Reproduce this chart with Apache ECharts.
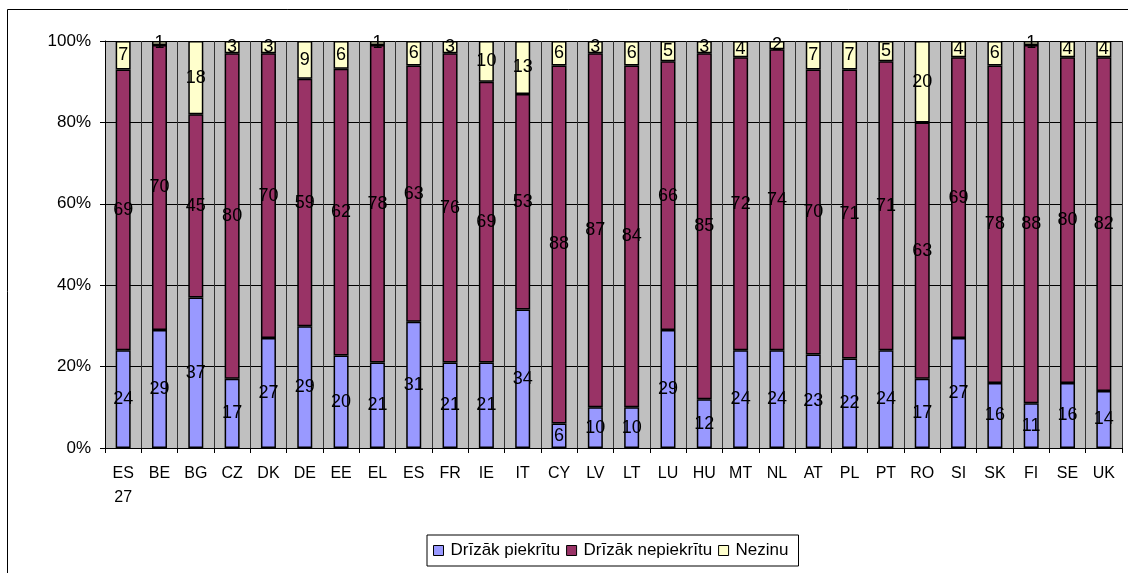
<!DOCTYPE html>
<html>
<head>
<meta charset="utf-8">
<script src="https://cdn.jsdelivr.net/npm/echarts@6/dist/echarts.min.js"></script>
<style>
  html, body { margin: 0; padding: 0; background: #fff; }
  #chart { width: 1128px; height: 573px; }
</style>
</head>
<body>
<div id="chart"></div>
<script>
// valstis un atbildes (raw values, stacked to 100%)
const countries = ['ES 27', 'BE', 'BG', 'CZ', 'DK', 'DE', 'EE', 'EL', 'ES', 'FR', 'IE', 'IT', 'CY', 'LV',
  'LT', 'LU', 'HU', 'MT', 'NL', 'AT', 'PL', 'PT', 'RO', 'SI', 'SK', 'FI', 'SE', 'UK'];
const agree = [24, 29, 37, 17, 27, 29, 20, 21, 31, 21, 21, 34, 6, 10, 10, 29, 12, 24, 24, 23, 22, 24, 17, 27, 16, 11, 16, 14];
const disagree = [69, 70, 45, 80, 70, 59, 62, 78, 63, 76, 69, 53, 88, 87, 84, 66, 85, 72, 74, 70, 71, 71, 63, 69, 78, 88, 80, 82];
const dontKnow = [7, 1, 18, 3, 3, 9, 6, 1, 6, 3, 10, 13, 6, 3, 6, 5, 3, 4, 2, 7, 7, 5, 20, 4, 6, 1, 4, 4];
const seriesNames = ['Drīzāk piekrītu', 'Drīzāk nepiekrītu', 'Nezinu'];
const yTicks = [0, 20, 40, 60, 80, 100];

const totals = countries.map((c, i) => agree[i] + disagree[i] + dontKnow[i]);
const font = 'Liberation Sans, Arial, sans-serif';

function makeSeries(name, values, color) {
  return {
    name: name,
    type: 'bar',
    stack: 'total',
    barWidth: 15,
    data: values.map((v, i) => ({ value: v / totals[i] * 100, raw: v })),
    itemStyle: { color: color, borderColor: '#000', borderWidth: 1.5 },
    label: {
      show: true,
      position: 'inside',
      color: '#000',
      fontFamily: font,
      fontSize: 18,
      formatter: (p) => p.data.raw,
    },
  };
}

const chart = echarts.init(document.getElementById('chart'));
chart.setOption({
  animation: false,
  textStyle: { fontFamily: font },
  grid: { left: 105, right: 6, top: 41, bottom: 125, show: true, backgroundColor: '#c0c0c0', borderWidth: 0 },
  graphic: [{
    type: 'rect',
    shape: { x: 7.5, y: 9.5, width: 1140, height: 580 },
    style: { fill: 'none', stroke: '#000', lineWidth: 1 },
    silent: true,
  }],
  legend: {
    data: seriesNames,
    left: 427,
    top: 535,
    padding: [7, 10, 7, 6],
    itemWidth: 10,
    itemHeight: 10,
    itemGap: 6,
    borderColor: '#000',
    borderWidth: 1,
    textStyle: { fontFamily: font, fontSize: 17, color: '#000', padding: [0, 0, 0, 2] },
    icon: 'rect',
    itemStyle: { borderColor: '#000', borderWidth: 1 },
  },
  xAxis: {
    type: 'category',
    data: countries,
    axisLine: { lineStyle: { color: '#000' } },
    axisTick: { show: true, length: 5, lineStyle: { color: '#000' } },
    axisLabel: {
      color: '#000',
      fontSize: 16,
      lineHeight: 24,
      margin: 14,
      formatter: (v) => v.replace(' ', '\n'),
    },
    splitLine: { show: true, lineStyle: { color: '#333', width: 1 } },
  },
  yAxis: {
    type: 'value',
    min: yTicks[0],
    max: yTicks[yTicks.length - 1],
    interval: 20,
    axisLine: { show: true, lineStyle: { color: '#000' } },
    axisTick: { show: true, length: 5, lineStyle: { color: '#000' } },
    axisLabel: { color: '#000', fontSize: 17, margin: 14, formatter: '{value}%' },
    splitLine: { lineStyle: { color: '#000', width: 1 } },
  },
  series: [
    makeSeries(seriesNames[0], agree, '#9999ff'),
    makeSeries(seriesNames[1], disagree, '#993366'),
    makeSeries(seriesNames[2], dontKnow, '#ffffcc'),
  ],
});
</script>
</body>
</html>
